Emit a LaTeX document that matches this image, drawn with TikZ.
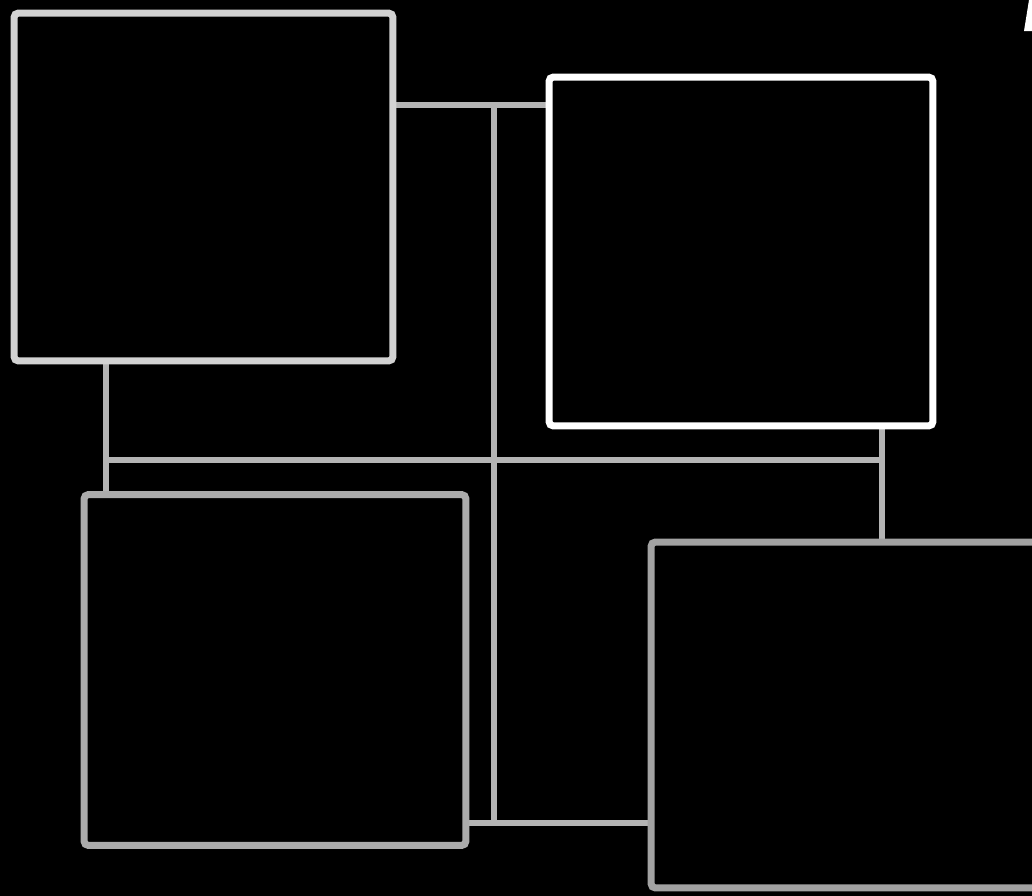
\documentclass[tikz,border=0pt]{standalone}
\usepackage{xcolor}
\usepackage{tikz}
\usetikzlibrary{positioning,backgrounds}
\definecolor{panelA}{HTML}{D2D2D2}
\definecolor{panelC}{HTML}{ABABAB}
\definecolor{panelD}{HTML}{A2A2A2}
\definecolor{wire}{HTML}{B4B4B4}
\tikzstyle{panel} = [rectangle, draw, fill=black, rounded corners=2.5pt,
                     line width=4pt, inner sep=0pt]
\tikzstyle{link} = [draw=wire, line width=3.6pt]

\begin{document}
\begin{tikzpicture}[x=0.02cm, y=-0.02cm]
    \path [use as bounding box, clip] (0,0) rectangle (1032,896);

    \node [panel, draw=panelA, minimum width=7.58cm, minimum height=6.96cm] (nw) at (203.5,187) {};
    \node [panel, draw=white, minimum width=7.68cm, minimum height=6.98cm] (ne) at (741,251.5) {};
    \node [panel, draw=panelC, minimum width=7.64cm, minimum height=7.02cm] (sw) at (275,670) {};
    \node [panel, draw=panelD, minimum width=7.98cm, minimum height=6.92cm] (se) at (850.5,715) {};

    \coordinate (topj) at (494,105);
    \coordinate (botj) at (494,823);
    \coordinate (leftj) at (106,460);
    \coordinate (rightj) at (882,460);

    \begin{scope}[on background layer]
    \fill [black] (0,0) rectangle (1032,896);
    \draw [link] (nw.east |- topj) -- (ne.west |- topj);
    \draw [link] (topj) -- (botj);
    \draw [link] (sw.east |- botj) -- (se.west |- botj);
    \draw [link] (nw.south -| leftj) -- (sw.north -| leftj);
    \draw [link] (leftj) -- (rightj);
    \draw [link] (ne.south -| rightj) -- (se.north -| rightj);
    \end{scope}

    \fill [white] (1029,0) -- (1032,0) -- (1032,31) -- (1024,31) -- cycle;
  \end{tikzpicture}
\end{document}
